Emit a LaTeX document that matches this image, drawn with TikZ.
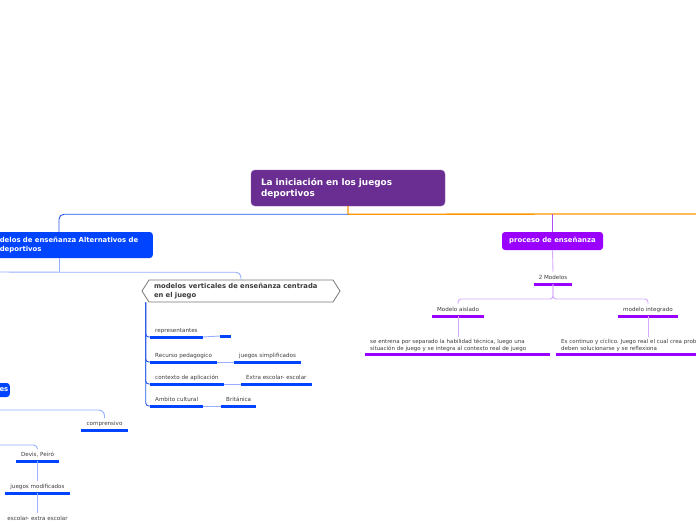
\documentclass[tikz,border=0pt]{standalone}
\usepackage{fontspec}
\setmainfont{DejaVu Sans}
\frenchspacing
\usetikzlibrary{positioning,shapes.symbols}
\definecolor{RootPurple}{RGB}{106,45,145}
\definecolor{MapBlue}{RGB}{0,68,255}
\definecolor{MapViolet}{RGB}{153,0,255}
\definecolor{LinkOrange}{RGB}{255,150,0}
\definecolor{LinkBlue}{RGB}{40,90,235}
\definecolor{LinkLight}{RGB}{150,175,255}
\definecolor{LinkLilac}{RGB}{215,170,255}
\definecolor{LinkPurple}{RGB}{170,80,245}
\definecolor{LeafGray}{RGB}{60,60,60}
\definecolor{HexGray}{RGB}{120,120,120}

\begin{document}
\begin{tikzpicture}[
    x=1pt, y=-1pt,
    rootbox/.style={rectangle, rounded corners=4pt, draw=RootPurple!80!white, fill=RootPurple, text=white, font=\fontsize{8.9}{11}\selectfont\bfseries, minimum width=194pt, minimum height=36pt, text width=174pt, inner xsep=10pt, align=left},
    mainbox/.style={rectangle, rounded corners=3pt, fill=#1, text=white, font=\fontsize{6.9}{9}\selectfont\bfseries, inner ysep=2pt},
    hexbox/.style={signal, signal to=west and east, signal pointer angle=115, draw=HexGray, line width=0.8pt, fill=white, text=LeafGray, font=\fontsize{6.8}{8.5}\selectfont\bfseries, text width=174pt, inner xsep=5pt, minimum height=22pt, align=left},
    leaf/.style={inner xsep=5pt, inner ysep=3pt, text=LeafGray, font=\fontsize{5.6}{6.5}\selectfont, text height=4.2pt, text depth=1.2pt},
    note/.style={inner xsep=5pt, inner ysep=2.5pt, text=LeafGray, font=\fontsize{5.5}{6.5}\selectfont, text width=175pt, align=left},
    bluebar/.style={draw=MapBlue, line width=3pt},
    violetbar/.style={draw=MapViolet, line width=3pt},
    bluelink/.style={draw=LinkBlue, line width=0.9pt},
    lightlink/.style={draw=LinkLight, line width=0.9pt},
    lilaclink/.style={draw=LinkLilac, line width=0.9pt}
]
\useasboundingbox[fill=white] (0,0) rectangle (696,520);

% central topic and first level
\node[rootbox] (root) at (348,188) {La iniciación en los juegos\\deportivos};
\node[mainbox=MapBlue, anchor=east, minimum height=26pt, text width=145pt, inner xsep=8pt, align=left] (alt) at (153,245) {delos de enseñanza Alternativos de\\deportivos};
\node[mainbox=MapViolet, minimum width=101pt, minimum height=18pt] (proc) at (552.5,241) {proceso de enseñanza};
\node[mainbox=MapBlue, anchor=east, minimum height=14pt, text width=22pt, inner xsep=1.5pt, align=right] (horiz) at (10,390) {es};

% vertical models
\node[hexbox] (hex) at (241,291) {modelos verticales de enseñanza centrada\\en el juego};
\node[leaf, anchor=south west] (repr) at (150,337) {representantes};
\node[leaf, anchor=south west, minimum width=11pt, inner xsep=0pt] (reprval) at (220,336) {};
\node[leaf, anchor=south west] (recu) at (150,362) {Recurso pedagogico};
\node[leaf, anchor=south west] (recuval) at (234,362) {juegos simplificados};
\node[leaf, anchor=south west] (cont) at (150,384) {contexto de aplicación};
\node[leaf, anchor=south west] (contval) at (241,384) {Extra escolar- escolar};
\node[leaf, anchor=south west] (ambi) at (150,406) {Ambito cultural};
\node[leaf, anchor=south west] (ambival) at (221,406) {Británica};

% horizontal models
\node[leaf, anchor=south] (comp) at (104.5,430) {comprensivo};
\node[leaf, anchor=south] (devis) at (37.5,461) {Devis, Peiró};
\node[leaf, anchor=south] (jmod) at (37.5,493) {juegos modificados};
\node[leaf, anchor=south] (escol) at (37.5,525) {escolar- extra escolar};

% teaching process
\node[leaf, anchor=south] (twomod) at (553,284) {2 Modelos};
\node[leaf, anchor=south] (aisl) at (458,316) {Modelo aislado};
\node[leaf, anchor=south] (integ) at (648,316) {modelo integrado};
\node[note, anchor=south west] (aisltxt) at (365,354) {se entrena por separado la habilidad técnica, luego una\\situación de juego y se integra al contexto real de juego};
\node[note, anchor=south west] (integtxt) at (556,354) {Es continuo y cíclico. Juego real el cual crea problemas\\deben solucionarse y se reflexiona};

\foreach \n in {repr,reprval,recu,recuval,cont,contval,ambi,ambival,comp,devis,jmod,escol}
  \draw[bluebar] (\n.south west) -- (\n.south east);
\foreach \n in {twomod,aisl,integ,aisltxt,integtxt}
  \draw[violetbar] (\n.south west) -- (\n.south east);

% connectors
\coordinate (rightend) at (700,214);
\coordinate (leftA) at (-5,272);
\coordinate (leftB) at (-5,410);
\coordinate (leftC) at (-5,445);
\draw[draw=LinkOrange, line width=1.3pt] (root.south) -- ++(0,8) coordinate (fork) -- (rightend);
\draw[bluelink, rounded corners=5pt] (fork) -| ([xshift=-94pt]alt.north east);
\draw[draw=LinkPurple, line width=0.9pt] (proc.north |- fork) -- (proc.north);
\draw[lightlink] ([xshift=-94pt]alt.south east) -- ++(0,14) coordinate (altfork);
\draw[lightlink, rounded corners=5pt] (leftA) -- (altfork) -| (hex.north);
\draw[lightlink, rounded corners=6pt] (leftB) -| (comp.north);
\draw[lightlink, rounded corners=4pt] (leftC) -| (devis.north);
\draw[lightlink] (devis.south) -- (jmod.north);
\draw[lightlink] (jmod.south) -- (escol.north);

\coordinate (hexfoot) at ([xshift=-3pt]hex.south west);
\foreach \n in {repr,recu,cont,ambi}
  \draw[bluelink, rounded corners=3pt] (hexfoot) |- (\n.south west);
\draw[lightlink] (repr.south east) -- (reprval.south west);
\draw[lightlink] (recu.south east) -- (recuval.south west);
\draw[lightlink] (cont.south east) -- (contval.south west);
\draw[lightlink] (ambi.south east) -- (ambival.south west);

\draw[lilaclink] (proc.south) -- (twomod.north);
\draw[lilaclink, rounded corners=3pt] (twomod.south) -- ++(0,15) -| (aisl.north);
\draw[lilaclink, rounded corners=3pt] (twomod.south) -- ++(0,15) -| (integ.north);
\draw[lilaclink] (aisl.south) -- (aisl.south |- aisltxt.north);
\draw[lilaclink] (integ.south) -- (integ.south |- integtxt.north);
\end{tikzpicture}
\end{document}
